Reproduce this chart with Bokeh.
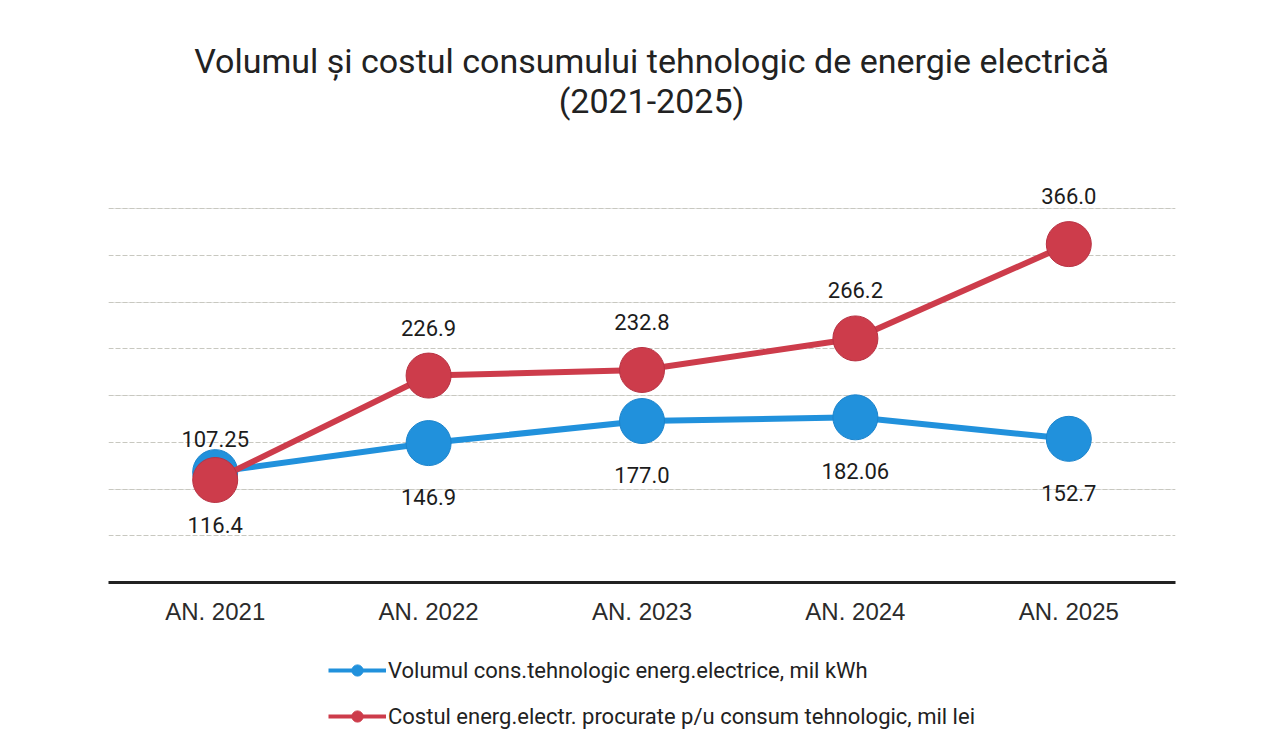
from bokeh.plotting import figure
from bokeh.layouts import column
from bokeh.models import (Range1d, FactorRange, Grid, FixedTicker, ColumnDataSource,
                          Legend, LegendItem, Label)
from bokeh.embed import file_html
from bokeh.resources import INLINE
from bokeh.core.properties import value

# ---------------- data ----------------
years = ["AN. 2021", "AN. 2022", "AN. 2023", "AN. 2024", "AN. 2025"]
volum = [107.25, 146.9, 177.0, 182.06, 152.7]      # mil kWh
cost = [116.4, 226.9, 232.8, 266.2, 366.0]         # mil lei
volum_name = "Volumul cons.tehnologic energ.electrice, mil kWh"
cost_name = "Costul energ.electr. procurate p/u consum tehnologic, mil lei"
title_lines = ["Volumul și costul consumului tehnologic de energie electrică", "(2021-2025)"]
volum_label_side = ["above", "below", "below", "below", "below"]
cost_label_side = ["below", "above", "above", "above", "above"]

BLUE = "#2191dc"
RED = "#cd3c4b"
W = 1259


def strip(height):
    f = figure(width=W, height=height, x_range=Range1d(0, 1), y_range=Range1d(0, 1),
               output_backend="svg", toolbar_location=None, x_axis_location=None,
               y_axis_location=None, min_border=0, min_border_left=0, min_border_right=0,
               min_border_top=0, min_border_bottom=0, title=None)
    f.outline_line_color = None
    f.grid.visible = False
    f.background_fill_color = "white"
    f.border_fill_color = "white"
    return f


# ---------------- title strip ----------------
tt = strip(130)
for txt, ypos in zip(title_lines, (70, 30)):
    tt.add_layout(Label(x=543, y=ypos, x_units="screen", y_units="screen", text=txt,
                        text_align="center", text_baseline="middle", text_font="Roboto",
                        text_font_size="34px", text_color="#222222"))

# ---------------- main chart ----------------
p = figure(width=W, height=510, x_range=FactorRange(*years), y_range=Range1d(0, 8.6),
           output_backend="svg", toolbar_location=None, y_axis_location=None, title=None,
           min_border_left=108, min_border_right=84, min_border_top=50, min_border_bottom=58)
p.outline_line_color = None
p.background_fill_color = "white"
p.border_fill_color = "white"

# two independent (hidden) value scales
p.extra_y_ranges = {"cost": Range1d(7.94, 433.3), "volum": Range1d(-43.4, 505.3)}

grid = Grid(dimension=1, ticker=FixedTicker(ticks=[1, 2, 3, 4, 5, 6, 7, 8]),
            grid_line_color="#c8c8c0", grid_line_width=1, grid_line_dash="5 2")
p.add_layout(grid)
p.xgrid.visible = False

ax = p.xaxis[0]
ax.axis_line_width = 3
ax.axis_line_color = "#222222"
ax.major_tick_line_color = None
ax.minor_tick_line_color = None
ax.major_label_text_font = "Liberation Sans"
ax.major_label_text_font_size = "24px"
ax.major_label_text_color = "#2b2b2b"
ax.major_label_standoff = 9

src_v = ColumnDataSource(dict(x=years, y=volum, t=[str(v) for v in volum],
                              off=[-33 if s == "above" else 54 for s in volum_label_side]))
src_c = ColumnDataSource(dict(x=years, y=cost, t=[str(v) for v in cost],
                              off=[-48 if s == "above" else 45 for s in cost_label_side]))

p.line("x", "y", source=src_v, y_range_name="volum", line_color=BLUE, line_width=6)
p.scatter("x", "y", source=src_v, y_range_name="volum", size=45, fill_color=BLUE,
          line_color="#1c84cc", line_width=1)
p.line("x", "y", source=src_c, y_range_name="cost", line_color=RED, line_width=6)
p.scatter("x", "y", source=src_c, y_range_name="cost", size=45, fill_color=RED,
          line_color="#b83243", line_width=1)

for src, rng in ((src_v, "volum"), (src_c, "cost")):
    p.text("x", "y", text="t", source=src, y_range_name=rng, y_offset="off",
           text_align="center", text_baseline="middle", text_font=value("Roboto"),
           text_font_size="22px", text_color="#1c1c1c")

# ---------------- legend strip ----------------
lg = strip(98)
kx, ky = [-5, -4], [-5, -5]
lbl = lg.line(kx, ky, line_color=BLUE, line_width=4)
lbs = lg.scatter(kx, ky, size=12, fill_color=BLUE, line_color=BLUE)
lrl = lg.line(kx, ky, line_color=RED, line_width=4)
lrs = lg.scatter(kx, ky, size=12, fill_color=RED, line_color=RED)
legend = Legend(items=[LegendItem(label=volum_name, renderers=[lbl, lbs]),
                       LegendItem(label=cost_name, renderers=[lrl, lrs])],
                location=(220, 8), orientation="vertical",
                glyph_width=58, glyph_height=28, label_height=28, spacing=18,
                label_standoff=2, padding=0, margin=0,
                label_text_font="Roboto", label_text_font_size="22px",
                label_text_color="#222222",
                border_line_color=None, background_fill_alpha=0)
lg.add_layout(legend)

open("out.html", "w").write(file_html(column(tt, p, lg), INLINE))
